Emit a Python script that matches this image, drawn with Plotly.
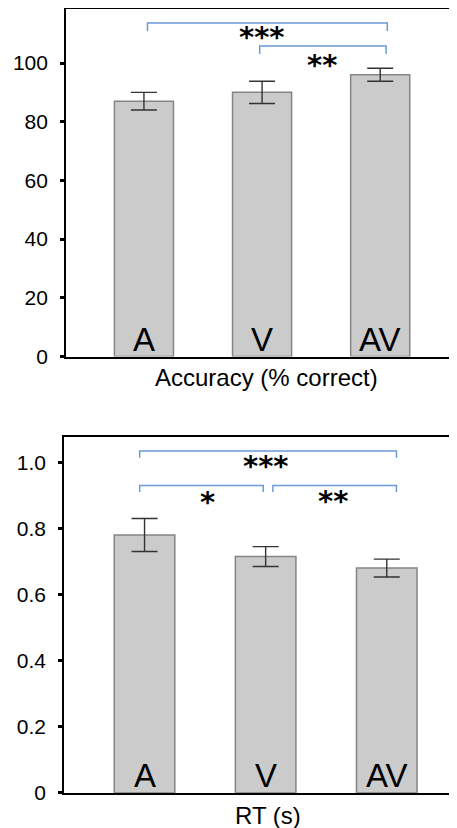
import plotly.graph_objects as go

# ---------------- data ----------------
categories = ["A", "V", "AV"]
acc_values = [87.0, 90.0, 96.0]
acc_errors = [3.0, 3.8, 2.2]
rt_values = [0.78, 0.715, 0.68]
rt_errors = [0.05, 0.03, 0.027]

acc_ticks = [0, 20, 40, 60, 80, 100]
rt_ticks = [0, 0.2, 0.4, 0.6, 0.8, 1.0]
rt_ticktext = ["0", "0.2", "0.4", "0.6", "0.8", "1.0"]

# significance comparisons: (left end, right end, bracket height, label)
acc_sig = [(0.03, 2.06, 113.6, "***"), (0.98, 2.05, 105.8, "**")]
rt_sig = [(-0.04, 2.08, 1.034, "***"), (-0.04, 0.98, 0.930, "*"), (1.06, 2.08, 0.930, "**")]
acc_star_pos = [(1.0, 109.9), (1.51, 100.3)]
rt_star_pos = [(1.0, 0.998), (0.52, 0.888), (1.56, 0.891)]

FONT = "Liberation Sans, Arial, Helvetica, sans-serif"
BAR_FILL = "#cbcbcb"
BAR_EDGE = "#858585"
BRACKET = "#6b9bd6"

fig = go.Figure()
xs = list(range(len(categories)))


def add_panel(vals, errs, xa, ya):
    fig.add_trace(go.Bar(
        x=xs, y=vals, width=0.5,
        marker=dict(color=BAR_FILL, line=dict(color=BAR_EDGE, width=1.5)),
        error_y=dict(type="data", array=errs, visible=True,
                     color="#333333", thickness=1.4, width=13),
        xaxis=xa, yaxis=ya, showlegend=False, hoverinfo="skip"))


def add_brackets(sig, stars, drop, xa, ya):
    for (a, b, h, lab), (sx, sy) in zip(sig, stars):
        fig.add_trace(go.Scatter(
            x=[a, a, b, b], y=[h - drop, h, h, h - drop], mode="lines",
            line=dict(color=BRACKET, width=1.5),
            xaxis=xa, yaxis=ya, showlegend=False, hoverinfo="skip"))
        fig.add_annotation(x=sx, y=sy, xref=xa, yref=ya, text="<b>" + lab + "</b>",
                           showarrow=False, yanchor="middle", yshift=-3,
                           font=dict(family="DejaVu Sans", size=29, color="black"))


add_panel(acc_values, acc_errors, "x", "y")
add_panel(rt_values, rt_errors, "x2", "y2")
add_brackets(acc_sig, acc_star_pos, 2.7, "x", "y")
add_brackets(rt_sig, rt_star_pos, 0.02, "x2", "y2")

# category labels inside bars
for xa, ya in [("x", "y"), ("x2", "y2")]:
    for i, c in enumerate(categories):
        fig.add_annotation(x=i, y=0, xref=xa, yref=ya, text=c, showarrow=False,
                           yanchor="bottom", yshift=-3,
                           font=dict(family=FONT, size=33, color="black"))

# axis titles
fig.add_annotation(x=1.04, y=0, xref="x", yref="y domain", text="Accuracy (% correct)",
                   showarrow=False, yanchor="middle", yshift=-21,
                   font=dict(family=FONT, size=24, color="black"))
fig.add_annotation(x=1.02, y=0, xref="x2", yref="y2 domain", text="RT (s)",
                   showarrow=False, yanchor="middle", yshift=-22,
                   font=dict(family=FONT, size=24, color="black"))

xaxis_common = dict(showgrid=False, zeroline=False, showticklabels=False, ticks="",
                    showline=True, mirror=True, linecolor="black", linewidth=2.2,
                    fixedrange=True)
yaxis_common = dict(showgrid=False, zeroline=False, showline=True, mirror=False,
                    linecolor="black", linewidth=1.6, ticks="outside", ticklen=4,
                    tickwidth=3, tickcolor="black", automargin=False,
                    tickfont=dict(family=FONT, size=21, color="black"),
                    ticklabelstandoff=8)

# the page body adds an 8px offset, so the figure is 8px smaller on each side
fig.update_layout(
    width=449, height=820,
    margin=dict(l=56, r=0, t=1, b=35, autoexpand=False),
    paper_bgcolor="white", plot_bgcolor="white",
    xaxis=dict(**xaxis_common, domain=[0.005, 1], range=[-0.66, 2.65], anchor="y"),
    yaxis=dict(**yaxis_common, domain=[0.5567, 1.0], range=[0, 118.4],
               tickvals=acc_ticks, anchor="x"),
    xaxis2=dict(**xaxis_common, domain=[0, 1], range=[-0.665, 2.58], anchor="y2"),
    yaxis2=dict(**yaxis_common, domain=[0, 0.4535], range=[0, 1.075],
                tickvals=rt_ticks, ticktext=rt_ticktext, anchor="x2"),
)

fig.write_html("out.html")
